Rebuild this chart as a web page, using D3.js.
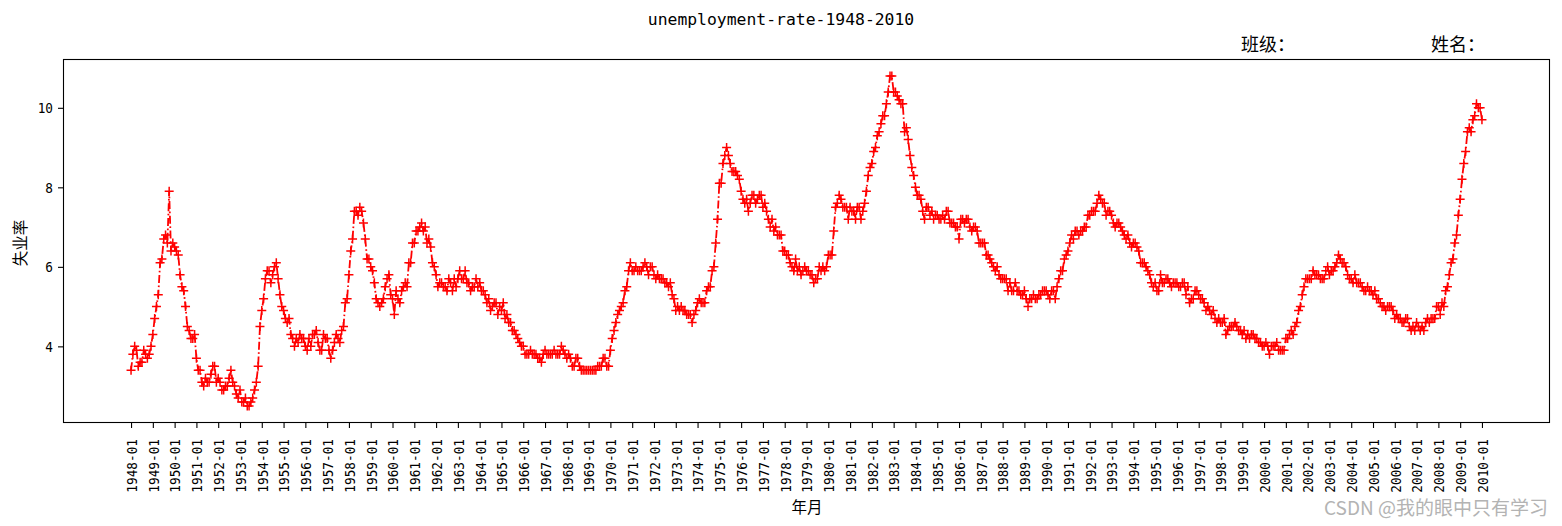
<!DOCTYPE html>
<html>
<head>
<meta charset="utf-8">
<script src="https://cdn.jsdelivr.net/npm/d3@7"></script>
<style>
  body { margin: 0; background: #fff; }
  svg text { fill: #000; }
  .mono { font-family: "DejaVu Sans Mono", "Liberation Mono", monospace; }
  .cjk { font-family: "Noto Sans CJK SC", sans-serif; }
</style>
</head>
<body>
<svg width="1562" height="526"></svg>
<script>
// monthly unemployment rate, one row per year
var startYear = 1948;
var rates = [
  3.4,3.8,4.0,3.9,3.5,3.6,3.6,3.9,3.8,3.7,3.8,4.0,
  4.3,4.7,5.0,5.3,6.1,6.2,6.7,6.8,6.6,7.9,6.4,6.6,
  6.5,6.4,6.3,5.8,5.5,5.4,5.0,4.5,4.4,4.2,4.2,4.3,
  3.7,3.4,3.4,3.1,3.0,3.2,3.1,3.1,3.3,3.5,3.5,3.1,
  3.2,3.1,2.9,2.9,3.0,3.0,3.2,3.4,3.1,3.0,2.8,2.7,
  2.9,2.6,2.6,2.7,2.5,2.5,2.6,2.7,2.9,3.1,3.5,4.5,
  4.9,5.2,5.7,5.9,5.9,5.6,5.8,6.0,6.1,5.7,5.3,5.0,
  4.9,4.7,4.6,4.7,4.3,4.2,4.0,4.2,4.1,4.3,4.2,4.2,
  4.0,3.9,4.2,4.0,4.3,4.3,4.4,4.1,3.9,3.9,4.3,4.2,
  4.2,3.9,3.7,3.9,4.1,4.3,4.2,4.1,4.4,4.5,5.1,5.2,
  5.8,6.4,6.7,7.4,7.4,7.3,7.5,7.4,7.1,6.7,6.2,6.2,
  6.0,5.9,5.6,5.2,5.1,5.0,5.1,5.2,5.5,5.7,5.8,5.3,
  5.2,4.8,5.4,5.2,5.1,5.4,5.5,5.6,5.5,6.1,6.1,6.6,
  6.6,6.9,6.9,7.0,7.1,6.9,7.0,6.6,6.7,6.5,6.1,6.0,
  5.8,5.5,5.6,5.6,5.5,5.5,5.4,5.7,5.6,5.4,5.7,5.5,
  5.7,5.9,5.7,5.7,5.9,5.6,5.6,5.4,5.5,5.5,5.7,5.5,
  5.6,5.4,5.4,5.3,5.1,5.2,4.9,5.0,5.1,5.1,4.8,5.0,
  4.9,5.1,4.7,4.8,4.6,4.6,4.4,4.4,4.3,4.2,4.1,4.0,
  4.0,3.8,3.8,3.8,3.9,3.8,3.8,3.8,3.7,3.7,3.6,3.8,
  3.9,3.8,3.8,3.8,3.8,3.9,3.8,3.8,3.8,4.0,3.9,3.8,
  3.7,3.8,3.7,3.5,3.5,3.7,3.7,3.5,3.4,3.4,3.4,3.4,
  3.4,3.4,3.4,3.4,3.4,3.5,3.5,3.5,3.7,3.7,3.5,3.5,
  3.9,4.2,4.4,4.6,4.8,4.9,5.0,5.1,5.4,5.5,5.9,6.1,
  5.9,5.9,6.0,5.9,5.9,5.9,6.0,6.1,6.0,5.8,6.0,6.0,
  5.8,5.7,5.8,5.7,5.7,5.7,5.6,5.6,5.5,5.6,5.3,5.2,
  4.9,5.0,4.9,5.0,4.9,4.9,4.8,4.8,4.8,4.6,4.8,4.9,
  5.1,5.2,5.1,5.1,5.1,5.4,5.5,5.5,5.9,6.0,6.6,7.2,
  8.1,8.1,8.6,8.8,9.0,8.8,8.6,8.4,8.4,8.4,8.3,8.2,
  7.9,7.7,7.6,7.7,7.4,7.6,7.8,7.8,7.6,7.7,7.8,7.8,
  7.5,7.6,7.4,7.2,7.0,7.2,6.9,7.0,6.8,6.8,6.8,6.4,
  6.4,6.3,6.3,6.1,6.0,5.9,6.2,5.9,6.0,5.8,5.9,6.0,
  5.9,5.9,5.8,5.8,5.6,5.7,5.7,6.0,5.9,6.0,5.9,6.0,
  6.3,6.3,6.3,6.9,7.5,7.6,7.8,7.7,7.5,7.5,7.5,7.2,
  7.5,7.4,7.4,7.2,7.5,7.5,7.2,7.4,7.6,7.9,8.3,8.5,
  8.6,8.9,9.0,9.3,9.4,9.6,9.8,9.8,10.1,10.4,10.8,10.8,
  10.4,10.4,10.3,10.2,10.1,10.1,9.4,9.5,9.2,8.8,8.5,8.3,
  8.0,7.8,7.8,7.7,7.4,7.2,7.5,7.5,7.3,7.4,7.2,7.3,
  7.3,7.2,7.2,7.3,7.2,7.4,7.4,7.1,7.1,7.1,7.0,7.0,
  6.7,7.2,7.2,7.1,7.2,7.2,7.0,6.9,7.0,7.0,6.9,6.6,
  6.6,6.6,6.6,6.3,6.3,6.2,6.1,6.0,5.9,6.0,5.8,5.7,
  5.7,5.7,5.7,5.4,5.6,5.4,5.4,5.6,5.4,5.4,5.3,5.3,
  5.4,5.2,5.0,5.2,5.2,5.3,5.2,5.2,5.3,5.3,5.4,5.4,
  5.4,5.3,5.2,5.4,5.4,5.2,5.5,5.7,5.9,5.9,6.2,6.3,
  6.4,6.6,6.8,6.7,6.9,6.9,6.8,6.9,6.9,7.0,7.0,7.3,
  7.3,7.4,7.4,7.4,7.6,7.8,7.7,7.6,7.6,7.3,7.4,7.4,
  7.3,7.1,7.0,7.1,7.1,7.0,6.9,6.8,6.7,6.8,6.6,6.5,
  6.6,6.6,6.5,6.4,6.1,6.1,6.1,6.0,5.9,5.8,5.6,5.5,
  5.6,5.4,5.4,5.8,5.6,5.6,5.7,5.7,5.6,5.5,5.6,5.6,
  5.6,5.5,5.5,5.6,5.6,5.3,5.5,5.1,5.2,5.2,5.4,5.4,
  5.3,5.2,5.2,5.1,4.9,5.0,4.9,4.8,4.9,4.7,4.6,4.7,
  4.6,4.6,4.7,4.3,4.4,4.5,4.5,4.5,4.6,4.5,4.4,4.4,
  4.3,4.4,4.2,4.3,4.2,4.3,4.3,4.2,4.2,4.1,4.1,4.0,
  4.0,4.1,4.0,3.8,4.0,4.0,4.0,4.1,3.9,3.9,3.9,3.9,
  4.2,4.2,4.3,4.4,4.3,4.5,4.6,4.9,5.0,5.3,5.5,5.7,
  5.7,5.7,5.7,5.9,5.8,5.8,5.8,5.7,5.7,5.7,5.9,6.0,
  5.8,5.9,5.9,6.0,6.1,6.3,6.2,6.1,6.1,6.0,5.8,5.7,
  5.7,5.6,5.8,5.6,5.6,5.6,5.5,5.4,5.4,5.5,5.4,5.4,
  5.3,5.4,5.2,5.2,5.1,5.0,5.0,4.9,5.0,5.0,5.0,4.9,
  4.7,4.8,4.7,4.7,4.6,4.6,4.7,4.7,4.5,4.4,4.5,4.4,
  4.6,4.5,4.4,4.5,4.4,4.6,4.7,4.6,4.7,4.7,4.7,5.0,
  5.0,4.8,5.1,5.0,5.4,5.5,5.8,6.1,6.2,6.6,6.8,7.3,
  7.7,8.2,8.6,8.9,9.4,9.5,9.4,9.7,9.8,10.1,10.0,10.0,
  9.7
];
var yTicks = [4, 6, 8, 10];

// one label per month, ticks only on january
var months = rates.map(function(v, i){
	var y = startYear + Math.floor(i / 12);
	var m = i % 12 + 1;
	return y + "-" + (m < 10 ? "0" + m : m);
});
var xTickIdx = d3.range(0, rates.length, 12);

var box = { left: 63.5, right: 1549.5, top: 59.5, bottom: 422.5 };

var svg = d3.select("svg");

// matplotlib style 5% margins
var n = rates.length - 1;
var x = d3.scaleLinear()
	.domain([-0.05 * n, n * 1.05])
	.range([box.left, box.right]);
var lo = d3.min(rates), hi = d3.max(rates);
var y = d3.scaleLinear()
	.domain([lo - 0.05 * (hi - lo), hi + 0.05 * (hi - lo)])
	.range([box.bottom, box.top]);

// x axis
var xAxis = svg.append("g")
	.attr("transform", "translate(0," + box.bottom + ")")
	.call(d3.axisBottom(x).tickValues(xTickIdx).tickFormat(function(d){ return months[d]; }).tickSize(5.5).tickSizeOuter(0));
xAxis.select(".domain").remove();
xAxis.selectAll("line").attr("stroke", "#000").attr("stroke-width", 1.1);
// digits are squeezed a bit to look like the narrow cjk latin glyphs
xAxis.selectAll("text")
	.attr("class", "mono")
	.attr("font-size", 14.8)
	.attr("fill", "#000")
	.attr("text-anchor", "end")
	.attr("transform", "translate(0,16.5) rotate(-90) scale(0.86,1)")
	.attr("x", 0).attr("y", 0).attr("dy", "0.36em");

// y axis
var yAxis = svg.append("g")
	.attr("transform", "translate(" + box.left + ",0)")
	.call(d3.axisLeft(y).tickValues(yTicks).tickSize(5.5).tickSizeOuter(0));
yAxis.select(".domain").remove();
yAxis.selectAll("line").attr("stroke", "#000").attr("stroke-width", 1.1);
yAxis.selectAll("text")
	.attr("class", "mono")
	.attr("font-size", 14.8)
	.attr("fill", "#000")
	.attr("x", 0)
	.attr("transform", "translate(-10.5,0) scale(0.86,1)");

// frame
svg.append("rect")
	.attr("x", box.left).attr("y", box.top)
	.attr("width", box.right - box.left).attr("height", box.bottom - box.top)
	.attr("fill", "none").attr("stroke", "#000").attr("stroke-width", 1.1);

// the dash-dot line
var line = d3.line()
	.x(function(d, i){ return x(i); })
	.y(function(d){ return y(d); });
svg.append("path")
	.datum(rates)
	.attr("d", line)
	.attr("fill", "none")
	.attr("stroke", "#ff0000")
	.attr("stroke-width", 1.8)
	.attr("stroke-dasharray", "8,2.6,1.6,2.6");

// plus markers
svg.append("g").selectAll("path")
	.data(rates)
	.enter().append("path")
	.attr("transform", function(d, i){ return "translate(" + x(i) + "," + y(d) + ")"; })
	.attr("d", "M-4.5,0H4.5M0,-4.5V4.5")
	.attr("stroke", "#ff0000")
	.attr("stroke-width", 1.5)
	.attr("fill", "none");

// titles and labels
svg.append("text").attr("class", "mono")
	.attr("x", 781).attr("y", 25)
	.attr("text-anchor", "middle").attr("font-size", 16.4)
	.text("unemployment-rate-1948-2010");

svg.append("text").attr("class", "cjk")
	.attr("x", 1241).attr("y", 51).attr("font-size", 18)
	.text("班级：");
svg.append("text").attr("class", "cjk")
	.attr("x", 1431).attr("y", 51).attr("font-size", 18)
	.text("姓名：");

svg.append("text").attr("class", "cjk")
	.attr("transform", "translate(20.5,243) rotate(-90)")
	.attr("text-anchor", "middle").attr("dy", "0.35em").attr("font-size", 15.5)
	.text("失业率");

svg.append("text").attr("class", "cjk")
	.attr("x", 807).attr("y", 508)
	.attr("text-anchor", "middle").attr("dy", "0.35em").attr("font-size", 15.5)
	.text("年月");

// watermark
svg.append("text").attr("class", "cjk")
	.attr("x", 1548).attr("y", 515)
	.attr("text-anchor", "end").attr("font-size", 19)
	.style("fill", "#b3b3b3")
	.text("CSDN @我的眼中只有学习");
</script>
</body>
</html>
